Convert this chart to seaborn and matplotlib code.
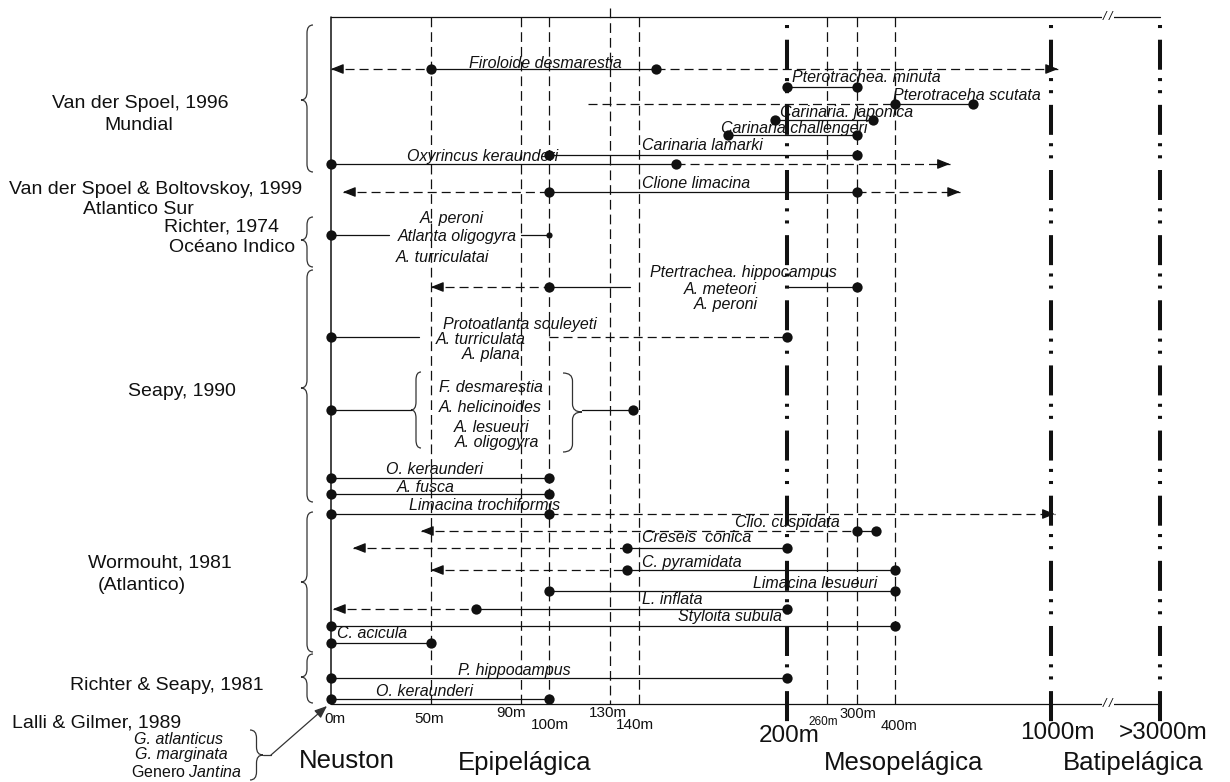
import matplotlib.pyplot as plt
import matplotlib.transforms as mtransforms
from matplotlib.path import Path
from matplotlib.patches import PathPatch
import numpy as np
import pandas as pd
import seaborn as sns

sns.set_theme(style='white')
plt.rcParams['font.family'] = ['Liberation Sans', 'DejaVu Sans']
plt.rcParams['mathtext.fontset'] = 'custom'
plt.rcParams['mathtext.rm'] = 'Liberation Sans'
plt.rcParams['mathtext.it'] = 'Liberation Sans:italic'
plt.rcParams['lines.scale_dashes'] = False

W, H = 1230, 782
INK = '#111111'

# escala de profundidad (m) -> posicion horizontal (px), no lineal como en el dibujo
SCALE_DEPTH = [-165, 0, 50, 90, 100, 130, 140, 200, 260, 300, 400, 1000, 3000, 4290]
SCALE_PX = [0, 331, 431, 521, 549, 610, 639, 787, 827, 857, 895, 1051, 1160, 1230]

# lineas verticales de referencia
DASHED_DEPTHS = [50, 90, 100, 130, 140, 260, 300, 400]
ZONE_DEPTHS = [200, 1000, 3000]

# filas (especies) -> posicion vertical
ROW_Y = [69, 87, 104, 120, 135, 155, 164, 192, 235, 287, 337, 410, 478, 494,
         514, 531, 548, 570, 591, 609, 626, 643, 678, 699]

# rangos: (fila, desde m, hasta m, estilo)  '-' registrado, '--' posible
SEGMENTS = [
    (0, 0, 50, '--'), (0, 50, 147, '-'), (0, 147, 1128, '--'),
    (1, 200, 300, '-'),
    (2, 119, 400, '--'), (2, 400, 700, '-'),
    (3, 195, 343, '-'),
    (4, 176, 300, '-'),
    (5, 100, 300, '-'),
    (6, 0, 155, '-'), (6, 155, 611, '--'),
    (7, 6, 100, '--'), (7, 100, 300, '-'), (7, 300, 650, '--'),
    (8, 0, 29, '-'), (8, 90, 100, '-'),
    (9, 50, 100, '--'), (9, 100, 137, '-'), (9, 200, 300, '-'),
    (10, 0, 44, '-'), (10, 100, 200, '--'),
    (11, 0, 40, '-'), (11, 116, 138, '-'),
    (12, 0, 100, '-'),
    (13, 0, 100, '-'),
    (14, 0, 100, '-'), (14, 100, 1070, '--'),
    (15, 45, 300, '--'), (15, 300, 350, '-'),
    (16, 11, 136, '--'), (16, 136, 200, '-'),
    (17, 50, 136, '--'), (17, 136, 400, '-'),
    (18, 100, 400, '-'),
    (19, 1, 70, '--'), (19, 70, 200, '-'),
    (20, 0, 400, '-'),
    (21, 0, 50, '-'),
    (22, 0, 200, '-'),
    (23, 0, 100, '-'),
]

# puntos extremos: (fila, m)
DOTS = [(0, 50), (0, 147), (1, 200), (1, 300), (2, 400), (2, 700), (3, 195), (3, 343),
        (4, 176), (4, 300), (5, 100), (5, 300), (6, 0), (6, 155), (7, 100), (7, 300),
        (8, 0), (9, 100), (9, 300), (10, 0), (10, 200), (11, 0), (11, 138),
        (12, 0), (12, 100), (13, 0), (13, 100), (14, 0), (14, 100), (15, 300), (15, 350),
        (16, 136), (16, 200), (17, 136), (17, 400), (18, 100), (18, 400), (19, 70), (19, 200),
        (20, 0), (20, 400), (21, 0), (21, 50), (22, 0), (22, 200), (23, 0), (23, 100)]
SMALL_DOTS = [(8, 100)]

# flechas: (fila, punta en m, sentido)
ARROWS = [(0, 0, -1), (0, 1128, 1), (6, 611, 1), (7, 6, -1), (7, 650, 1), (9, 50, -1),
          (14, 1070, 1), (15, 45, -1), (16, 11, -1), (17, 50, -1), (19, 1, -1)]

# nombres de especies: (texto, x px, y px, alineacion)
SPECIES = [
    ('Firoloide desmarestia', 545, 63, 'center'),
    ('Pterotrachea. minuta', 792, 78, 'left'),
    ('Pterotraceha scutata', 893, 96, 'left'),
    ('Carinaria. japonica', 780, 112, 'left'),
    ('Carinaria challengeri', 721, 128, 'left'),
    ('Carinaria lamarki', 642, 146, 'left'),
    ('Oxyrincus keraunderi', 483, 156, 'center'),
    ('Clione limacina', 642, 183, 'left'),
    ('A. peroni', 452, 219, 'center'),
    ('Atlanta oligogyra', 457, 236, 'center'),
    ('A. turriculatai', 442, 257, 'center'),
    ('Ptertrachea. hippocampus', 743, 273, 'center'),
    ('A. meteori', 720, 289, 'center'),
    ('A. peroni', 726, 304, 'center'),
    ('Protoatlanta souleyeti', 520, 325, 'center'),
    ('A. turriculata', 481, 340, 'center'),
    ('A. plana', 491, 355, 'center'),
    ('F. desmarestia', 491, 387, 'center'),
    ('A. helicinoides', 490, 407, 'center'),
    ('A. lesueuri', 492, 427, 'center'),
    ('A. oligogyra', 497, 442, 'center'),
    ('O. keraunderi', 434, 469, 'center'),
    ('A. fusca', 426, 487, 'center'),
    ('Limacina trochiformis', 485, 506, 'center'),
    ('Clio. cuspidata', 787, 523, 'center'),
    ('Creseis  conica', 642, 538, 'left'),
    ('C. pyramidata', 642, 562, 'left'),
    ('Limacina lesueuri', 877, 583, 'right'),
    ('L. inflata', 642, 600, 'left'),
    ('Styloita subula', 782, 617, 'right'),
    ('C. acicula', 337, 634, 'left'),
    ('P. hippocampus', 514, 671, 'center'),
    ('O. keraunderi', 425, 692, 'center'),
]

# autores (texto, x px, y px)
SOURCES = [
    ('Van der Spoel, 1996', 140, 103), ('Mundial', 139, 125),
    ('Van der Spoel & Boltovskoy, 1999', 156, 190), ('Atlantico Sur', 138, 210),
    ('Richter, 1974', 221, 227), ('Océano Indico', 232, 247),
    ('Seapy, 1990', 182, 392),
    ('Wormouht, 1981', 160, 563), ('(Atlantico)', 142, 585),
    ('Richter & Seapy, 1981', 167, 685),
]
# llaves de cada fuente: (y inicio, y fin, y punta)
SOURCE_BRACES = [(25, 172, 100), (217, 267, 240), (270, 502, 388), (512, 652, 582), (654, 703, 677)]

# etiquetas de profundidad: (texto, x px, y px, tamano)
DEPTH_LABELS = [('0m', 335, 719, 11), ('50m', 429, 719, 11), ('90m', 511, 713, 11),
                ('100m', 550, 725, 11), ('130m', 608, 713, 11), ('140m', 635, 725, 11),
                ('200m', 789, 736, 17.5), ('260m', 823, 722, 8.5), ('300m', 858, 714, 10.5),
                ('400m', 899, 726, 10.5), ('1000m', 1057, 733, 17.5), ('>3000m', 1163, 733, 17.5)]
ZONES = [('Neuston', 347, 761), ('Epipelágica', 525, 763), ('Mesopelágica', 904, 763),
         ('Batipelágica', 1133, 763)]


def fwd(d):
    return np.interp(d, SCALE_DEPTH, SCALE_PX)


def inv(p):
    return np.interp(p, SCALE_PX, SCALE_DEPTH)


fig = plt.figure(figsize=(W / 100, H / 100), dpi=100)
ax = fig.add_axes([0, 0, 1, 1])
ax.set_xscale('function', functions=(fwd, inv))
ax.set_xlim(SCALE_DEPTH[0], SCALE_DEPTH[-1])
ax.set_ylim(H, 0)
ax.set_axis_off()

# x en pixeles de figura, y en coordenadas de fila
px = mtransforms.blended_transform_factory(
    mtransforms.Affine2D().scale(1.0 / W, 1.0) + ax.transAxes, ax.transData)

TOP, BOTTOM = 17, 704
dash_h = (0, (6.5, 3.6))
dash_v = (0, (7.0, 3.6))
dashdot = (36.3, (21.6, 6.0, 2.2, 6.5, 2.2, 8.4))

# marco: eje 0 m, linea superior e inferior con corte
ax.plot([0, 0], [TOP, BOTTOM], color=INK, lw=1.1)
for yy in (TOP, BOTTOM):
    ax.plot([0, 3000], [yy, yy], color=INK, lw=0.9)
    ax.text(2040, yy, '/ /', ha='center', va='center', fontsize=9, style='italic', color=INK,
            bbox=dict(facecolor='white', edgecolor='none', pad=0.5))

for d in DASHED_DEPTHS:
    y0 = 8 if d == 130 else TOP
    ax.plot([d, d], [y0, BOTTOM], color=INK, lw=0.9, linestyle=dash_v)
for d in ZONE_DEPTHS:
    ax.plot([d, d], [25, 722], color=INK, lw=2.9, linestyle=dashdot, dash_capstyle='butt')

# rangos de cada especie
for row, d0, d1, style in SEGMENTS:
    ls = '-' if style == '-' else dash_h
    ax.plot([d0, d1], [ROW_Y[row], ROW_Y[row]], color=INK, lw=0.9, linestyle=ls)

for row, tip, sense in ARROWS:
    ax.annotate('', xy=(tip, ROW_Y[row]), xytext=(-sense * 7, 0), textcoords='offset points',
                arrowprops=dict(arrowstyle='-|>,head_length=0.75,head_width=0.3', color=INK,
                                lw=0.9, shrinkA=0, shrinkB=0, mutation_scale=10))

dots = pd.DataFrame(DOTS, columns=['row', 'depth'])
dots['y'] = [ROW_Y[r] for r in dots['row']]
sns.scatterplot(data=dots, x='depth', y='y', ax=ax, color=INK, s=55, linewidth=0,
                legend=False, zorder=5)
small = pd.DataFrame(SMALL_DOTS, columns=['row', 'depth'])
small['y'] = [ROW_Y[r] for r in small['row']]
sns.scatterplot(data=small, x='depth', y='y', ax=ax, color=INK, s=20, linewidth=0,
                legend=False, zorder=5)
ax.set_xlim(SCALE_DEPTH[0], SCALE_DEPTH[-1])
ax.set_ylim(H, 0)
ax.set_axis_off()

for txt, x, y, ha in SPECIES:
    ax.text(x, y, txt, transform=px, ha=ha, va='center', fontsize=11.5, style='italic',
            color=INK, zorder=6)


def brace(x_arm, x_tip, y0, y1, ym, lw=0.9):
    xm = (x_arm + x_tip) / 2
    r = min(8, (y1 - y0) / 4)
    verts = [(x_arm, y0), (xm, y0), (xm, y0 + r), (xm, ym - r), (xm, ym), (x_tip, ym),
             (xm, ym), (xm, ym + r), (xm, y1 - r), (xm, y1), (x_arm, y1)]
    codes = [Path.MOVETO, Path.CURVE3, Path.CURVE3, Path.LINETO, Path.CURVE3, Path.CURVE3,
             Path.CURVE3, Path.CURVE3, Path.LINETO, Path.CURVE3, Path.CURVE3]
    ax.add_patch(PathPatch(Path(verts, codes), fill=False, lw=lw, ec='#333333',
                           transform=px))


for y0, y1, ym in SOURCE_BRACES:
    brace(313, 301, y0, y1, ym)
# llaves del grupo de Seapy
brace(421, 411, 372, 448, 410)
brace(563, 582, 373, 452, 412)
# llave de Lalli & Gilmer
brace(250, 263, 730, 780, 755)
ax.plot([263, 271], [755, 755], color='#333333', lw=0.9, transform=px)
ax.annotate('', xy=(327, 706), xytext=(271, 755), xycoords=px, textcoords=px,
            arrowprops=dict(arrowstyle='-|>,head_length=0.75,head_width=0.3', color='#333333',
                            lw=0.9, shrinkA=0, shrinkB=0, mutation_scale=10))

for txt, x, y in SOURCES:
    ax.text(x, y, txt, transform=px, ha='center', va='center', fontsize=14, color=INK)
ax.text(12, 723, 'Lalli & Gilmer, 1989', transform=px, ha='left', va='center',
        fontsize=14, color=INK)
ax.text(178, 739, 'G. atlanticus', transform=px, ha='center', va='center', fontsize=11.5,
        style='italic', color=INK)
ax.text(181, 755, 'G. marginata', transform=px, ha='center', va='center', fontsize=11.5,
        style='italic', color=INK)
ax.text(186, 772, r'Genero $\it{Jantina}$', transform=px, ha='center', va='center',
        fontsize=11.5, color=INK)

for txt, x, y, fs in DEPTH_LABELS:
    ax.text(x, y, txt, transform=px, ha='center', va='center', fontsize=fs, color=INK)
for txt, x, y in ZONES:
    ax.text(x, y, txt, transform=px, ha='center', va='center', fontsize=18.5, color=INK)

fig.savefig('out.png', dpi=100)
